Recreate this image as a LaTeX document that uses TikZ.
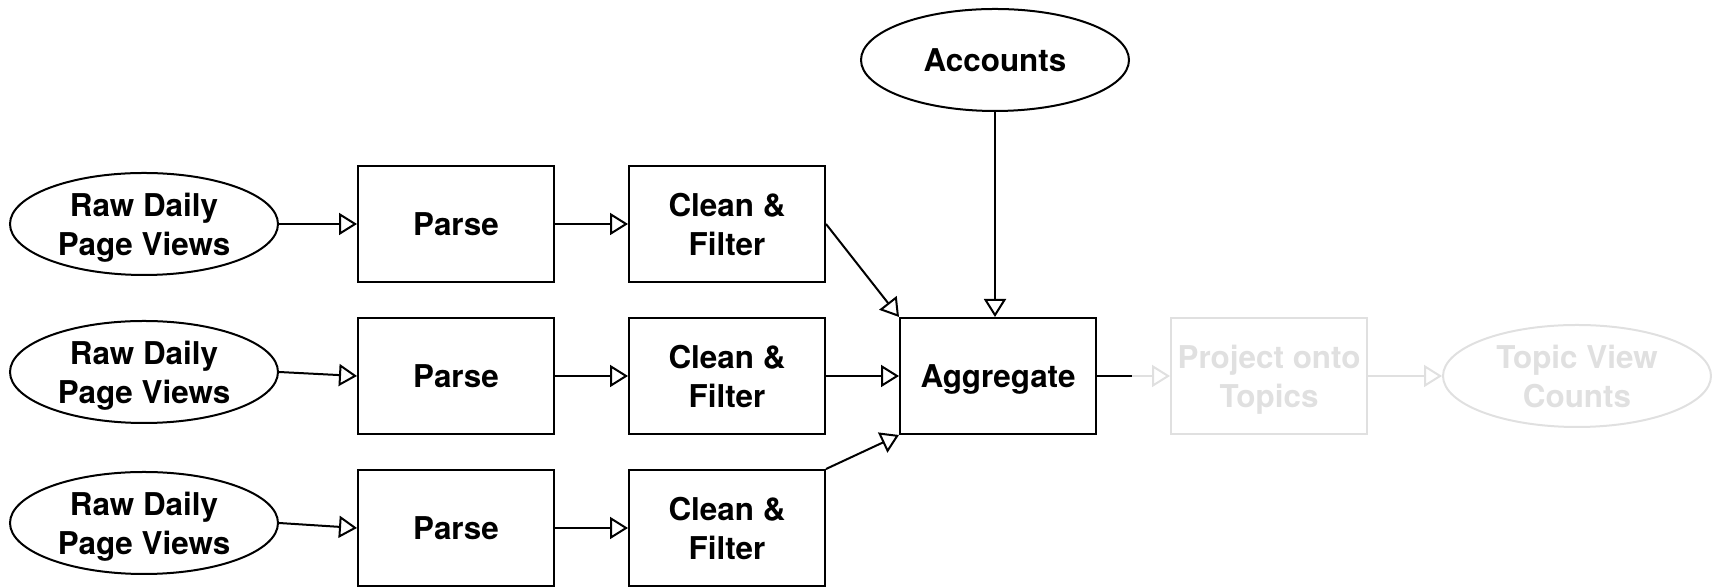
\documentclass[tikz,border=0pt]{standalone}
\usepackage{fontspec}
\setmainfont{TeX Gyre Heros}
\usetikzlibrary{arrows.meta,shapes.geometric}
\definecolor{fadegray}{RGB}{224,224,224}

\begin{document}
\begin{tikzpicture}[x=0.5pt,y=0.5pt,
	every node/.style={font=\fontsize{15.7}{19.6}\selectfont\bfseries,align=center,text depth=0pt,line width=1pt},
	data/.style={draw,ellipse,minimum width=134pt,minimum height=51pt,inner sep=0pt},
	stage/.style={draw,rectangle,minimum width=98pt,minimum height=58pt,inner sep=0pt},
	flow/.style={line width=1pt,-{Triangle[open,length=9pt,width=11pt]}},
	faded/.style={draw=fadegray,text=fadegray}]
%
	\useasboundingbox (0,0) rectangle (1713,587);
%
	\node[data] (raw1) at (144,363) {Raw Daily\\Page Views};
	\node[data] (raw2) at (144,215) {Raw Daily\\Page Views};
	\node[data] (raw3) at (144,64) {Raw Daily\\Page Views};
%
	\node[stage] (parse1) at (456,363) {Parse};
	\node[stage] (parse2) at (456,211) {Parse};
	\node[stage] (parse3) at (456,59) {Parse};
%
	\node[stage] (clean1) at (727,363) {Clean \&\\Filter};
	\node[stage] (clean2) at (727,211) {Clean \&\\Filter};
	\node[stage] (clean3) at (727,59) {Clean \&\\Filter};
%
	\node[stage] (agg) at (998,211) {Aggregate};
	\node[data] (accounts) at (995,527) {Accounts};
	\node[stage,faded] (project) at (1269,211) {Project onto\\Topics};
	\node[data,faded] (counts) at (1577,211) {Topic View\\Counts};
	\coordinate (fade) at (1132,211);
%
	\draw[flow] (raw1) -- (parse1);
	\draw[flow] (raw2.east) -- (parse2.west);
	\draw[flow] (raw3.east) -- (parse3.west);
	\draw[flow] (parse1) -- (clean1);
	\draw[flow] (parse2) -- (clean2);
	\draw[flow] (parse3) -- (clean3);
	\draw[flow] (clean1.east) -- (agg.north west);
	\draw[flow] (clean2) -- (agg);
	\draw[flow] (clean3.north east) -- (agg.south west);
	\draw[flow] (accounts.south) -- (accounts.south |- agg.north);
%
	\draw[line width=1pt] (agg) -- (fade);
	\draw[flow,fadegray] (fade) -- (project);
	\draw[flow,fadegray] (project) -- (counts);
\end{tikzpicture}
\end{document}
